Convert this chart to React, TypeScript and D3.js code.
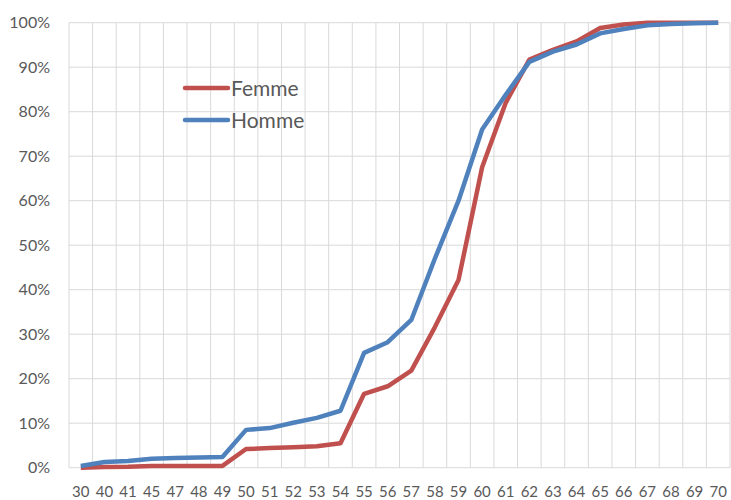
import React from "react";
import * as d3 from "d3";

const categories = ["30","40","41","45","47","48","49","50","51","52","53","54","55","56","57","58","59","60","61","62","63","64","65","66","67","68","69","70"];
const femme = [0,0.15,0.2,0.4,0.4,0.4,0.4,4.2,4.4,4.6,4.8,5.5,16.6,18.3,21.8,31.6,42.2,67.5,82,91.7,93.9,95.8,98.8,99.6,100,100,100,100];
const homme = [0.4,1.3,1.5,2.0,2.2,2.3,2.4,8.5,8.9,10.1,11.2,12.8,25.8,28.2,33.2,47,60,76,83.8,91.2,93.5,95.1,97.6,98.6,99.4,99.7,99.9,100];
const yTicks = [0,10,20,30,40,50,60,70,80,90,100];
const seriesNames = ["Femme","Homme"];
const colors = ["#C0504D","#4F81BD"];

export default function App() {
  const W = 731, H = 500;
  const left = 69, right = 730, top = 22.7, bottom = 467.7;
  const x = d3.scaleBand<string>().domain(categories).range([left, right]).paddingInner(0).paddingOuter(0);
  const y = d3.scaleLinear().domain([0, 100]).range([bottom, top]);
  const line = d3.line<number>().x((_, i) => (x(categories[i]) as number) + x.bandwidth() / 2).y(d => y(d));
  const font = "Lato, 'Open Sans', sans-serif";
  const series = [femme, homme];
  return (
    <svg width={W} height={H} style={{ position: "absolute", left: 0, top: 0 }}>
      <rect width={W} height={H} fill="#fff" />
      {categories.map((c, i) => (
        <line key={"v" + i} x1={x(c)} x2={x(c)} y1={top} y2={bottom} stroke="#D9D9D9" strokeWidth={1} />
      ))}
      <line x1={right} x2={right} y1={top} y2={bottom} stroke="#D9D9D9" strokeWidth={1} />
      {yTicks.map(t => (
        <g key={"h" + t}>
          <line x1={left} x2={right} y1={y(t)} y2={y(t)} stroke="#D9D9D9" strokeWidth={1} />
          <text x={50} y={y(t)} dy="0.36em" textAnchor="end" fontFamily={font} fontSize={16} fill="#595959">{t + "%"}</text>
        </g>
      ))}
      {categories.map(c => (
        <text key={"x" + c} x={(x(c) as number) + x.bandwidth() / 2} y={492} dy="0.36em" textAnchor="middle" fontFamily={font} fontSize={15} fill="#595959">{c}</text>
      ))}
      {series.map((s, k) => (
        <path key={"s" + k} d={line(s) as string} fill="none" stroke={colors[k]} strokeWidth={4.5} strokeLinejoin="round" />
      ))}
      {seriesNames.map((n, k) => (
        <g key={"l" + k}>
          <line x1={185} x2={228} y1={88 + k * 32} y2={88 + k * 32} stroke={colors[k]} strokeWidth={4.5} strokeLinecap="round" />
          <text x={231} y={88 + k * 32} dy="0.36em" fontFamily={font} fontSize={21} fill="#595959">{n}</text>
        </g>
      ))}
    </svg>
  );
}
